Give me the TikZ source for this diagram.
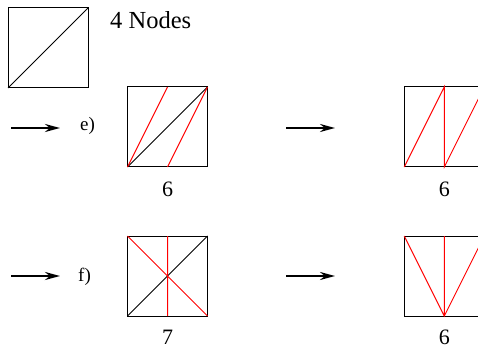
\documentclass[tikz,border=0pt]{standalone}
\usepackage{fontspec}
\setmainfont{Liberation Serif}
\usetikzlibrary{arrows.meta, positioning}

\begin{document}
\begin{tikzpicture}[x=1pt, y=-1pt,
cell/.style={rectangle, draw, line width=1pt, minimum size=80pt, inner sep=0pt, outer sep=0pt},
cut/.style={red, line width=1pt}, diag/.style={black, line width=0.9pt},
arr/.style={-{Stealth[length=15pt, width=8pt]}, line width=2.2pt},
lbl/.style={font=\fontsize{19}{22}\selectfont, inner sep=0pt, anchor=base west},
cnt/.style={font=\fontsize{22}{26}\selectfont, inner sep=0pt, anchor=base} ]
\useasboundingbox (0,0) rectangle (478,347);
\clip (0,0) rectangle (478,347);
% start square
\node[cell] (q0) at (48,48) {};
\draw[diag] (q0.south west) -- (q0.north east);
\node[font=\fontsize{24.5}{28}\selectfont, inner sep=0pt, anchor=base west] (title) at (110,29) {4 Nodes};
% row e)
\coordinate (e0) at (11,128); \coordinate (e1) at (60,128);
\draw[arr] (e0) -- (e1);
\node[lbl] (le) at (80,130.5) {e)};
\node[cell] (qe) at (167.5,127) {};
\draw[diag] (qe.south west) -- (qe.north east);
\draw[cut] (qe.south west) -- (qe.north) (qe.south) -- (qe.north east);
\node[cnt] (ne) at (167.5,196.5) {6};
\coordinate (e2) at (286,128); \coordinate (e3) at (335,128);
\draw[arr] (e2) -- (e3);
\node[cell] (re) at (444.3,127) {};
\draw[cut] (re.south west) -- (re.north) -- (re.south) -- (re.north east);
\node[cnt] (nre) at (444.3,196.5) {6};
% row f)
\coordinate (f0) at (11,276); \coordinate (f1) at (60,276);
\draw[arr] (f0) -- (f1);
\node[lbl] (lf) at (78,281) {f)};
\node[cell] (qf) at (167.5,276) {};
\draw[diag] (qf.south west) -- (qf.north east);
\draw[cut] (qf.north west) -- (qf.south east) (qf.north) -- (qf.south);
\node[cnt] (nf) at (167.5,344) {7};
\coordinate (f2) at (286,276); \coordinate (f3) at (335,276);
\draw[arr] (f2) -- (f3);
\node[cell] (rf) at (444.3,276) {};
\draw[cut] (rf.north west) -- (rf.south) -- (rf.north east) (rf.north) -- (rf.south);
\node[cnt] (nrf) at (444.3,344) {6};
\end{tikzpicture}
\end{document}
